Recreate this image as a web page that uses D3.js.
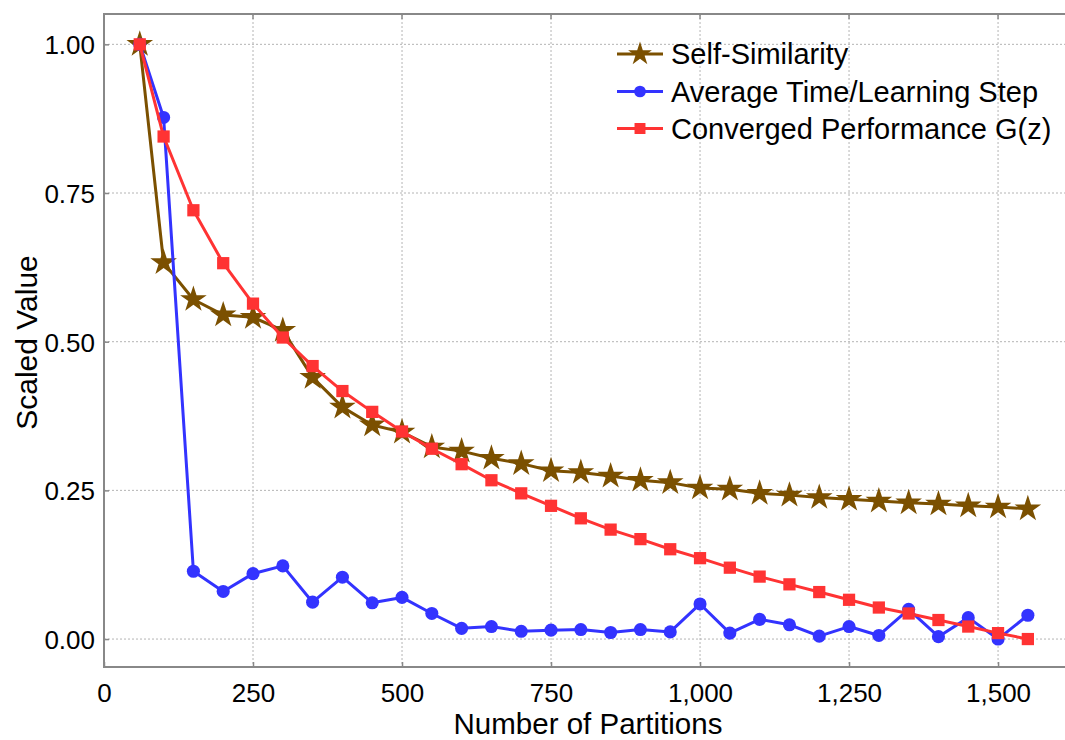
<!DOCTYPE html>
<html>
<head>
<meta charset="utf-8">
<script src="https://cdn.jsdelivr.net/npm/d3@7"></script>
<style>
  html, body { margin: 0; padding: 0; background: #fff; }
  svg { display: block; font-family: "Liberation Sans", Arial, sans-serif; }
</style>
</head>
<body>
<svg id="chart" width="1065" height="740"></svg>
<script>
// ---- data ----
const partitions = [60, 100, 150, 200, 250, 300, 350, 400, 450, 500, 550, 600, 650, 700, 750, 800, 850, 900, 950, 1000, 1050, 1100, 1150, 1200, 1250, 1300, 1350, 1400, 1450, 1500, 1550];
const selfSimilarity = [1.000, 0.633, 0.571, 0.545, 0.541, 0.519, 0.440, 0.390, 0.360, 0.348, 0.323, 0.316, 0.304, 0.295, 0.283, 0.280, 0.274, 0.267, 0.263, 0.254, 0.252, 0.245, 0.242, 0.238, 0.235, 0.232, 0.229, 0.227, 0.224, 0.222, 0.219];
const avgTime = [1.000, 0.877, 0.114, 0.080, 0.110, 0.123, 0.062, 0.104, 0.061, 0.070, 0.043, 0.018, 0.021, 0.013, 0.015, 0.016, 0.011, 0.016, 0.012, 0.059, 0.010, 0.033, 0.024, 0.005, 0.021, 0.006, 0.050, 0.004, 0.036, 0.000, 0.040];
const convergedPerf = [1.000, 0.845, 0.721, 0.632, 0.564, 0.507, 0.459, 0.417, 0.382, 0.349, 0.320, 0.294, 0.267, 0.245, 0.224, 0.203, 0.184, 0.168, 0.151, 0.136, 0.120, 0.105, 0.092, 0.079, 0.066, 0.053, 0.043, 0.032, 0.021, 0.010, 0.000];
const seriesNames = ["Self-Similarity", "Average Time/Learning Step", "Converged Performance G(z)"];
const xTicks = [0, 250, 500, 750, 1000, 1250, 1500];
const yTicks = [0, 0.25, 0.5, 0.75, 1.0];
const xTitle = "Number of Partitions";
const yTitle = "Scaled Value";

// ---- layout ----
const svg = d3.select("#chart");
const L = 104, T = 14, R = 1066, B = 667;

const x = d3.scaleLinear().domain([0, 1614]).range([L, R]);
const y = d3.scaleLinear().domain([-0.047, 1.051]).range([B, T]);

const gridColor = "#b4b4b4";
const frameColor = "#888888";

// grid
const g = svg.append("g");
g.selectAll(".vg").data(xTicks.filter(d => d > 0)).enter().append("line")
  .attr("x1", d => x(d)).attr("x2", d => x(d)).attr("y1", T).attr("y2", B)
  .attr("stroke", gridColor).attr("stroke-width", 1).attr("stroke-dasharray", "2,2");
g.selectAll(".hg").data(yTicks).enter().append("line")
  .attr("x1", L).attr("x2", R).attr("y1", d => y(d)).attr("y2", d => y(d))
  .attr("stroke", gridColor).attr("stroke-width", 1).attr("stroke-dasharray", "2,2");

// axes
const xAxis = d3.axisBottom(x).tickValues(xTicks).tickFormat(d3.format(",")).tickSizeInner(-5).tickSizeOuter(0).tickPadding(17);
const yAxis = d3.axisLeft(y).tickValues(yTicks).tickFormat(d3.format(".2f")).tickSizeInner(-5).tickSizeOuter(0).tickPadding(9);

const gx = svg.append("g").attr("transform", `translate(0,${B})`).call(xAxis);
const gy = svg.append("g").attr("transform", `translate(${L},0)`).call(yAxis);
[gx, gy].forEach(a => {
  a.select(".domain").remove();
  a.selectAll(".tick line").attr("stroke", frameColor).attr("stroke-width", 1.5);
  a.selectAll(".tick text").attr("fill", "#000").style("font-size", "26px").style("font-family", "'Liberation Sans', Arial, sans-serif");
});
gy.selectAll(".tick text").attr("dy", "0.36em");

// top ticks
svg.append("g").selectAll("line").data(xTicks).enter().append("line")
  .attr("x1", d => x(d)).attr("x2", d => x(d)).attr("y1", T).attr("y2", T + 5)
  .attr("stroke", frameColor).attr("stroke-width", 1.5);

// frame
svg.append("rect").attr("x", L).attr("y", T).attr("width", R - L).attr("height", B - T)
  .attr("fill", "none").attr("stroke", frameColor).attr("stroke-width", 2);

// titles
svg.append("text").attr("x", 588).attr("y", 734).attr("text-anchor", "middle")
  .style("font-size", "29.5px").attr("fill", "#000").text(xTitle);
svg.append("text").attr("transform", `translate(37,${(T + B) / 2 + 2}) rotate(-90)`).attr("text-anchor", "middle")
  .style("font-size", "30px").attr("fill", "#000").text(yTitle);

// series
const colors = ["#7b5000", "#3333ff", "#ff3333"];
const seriesVals = [selfSimilarity, avgTime, convergedPerf];
const symbols = [d3.symbolStar, d3.symbolCircle, d3.symbolSquare];
const symSizes = [220, 135, 150];

const line = d3.line().x(d => x(d[0])).y(d => y(d[1]));
const plot = svg.append("g");
seriesVals.forEach((vals, i) => {
  const pts = partitions.map((p, j) => [p, vals[j]]);
  plot.append("path").datum(pts).attr("d", line)
    .attr("fill", "none").attr("stroke", colors[i]).attr("stroke-width", 3).attr("stroke-linejoin", "round");
  plot.selectAll(".m" + i).data(pts).enter().append("path")
    .attr("transform", d => `translate(${x(d[0])},${y(d[1])})`)
    .attr("d", d3.symbol().type(symbols[i]).size(symSizes[i]))
    .attr("fill", colors[i]);
});

// legend
const leg = svg.append("g");
const legY = [54, 91.5, 128.5];
seriesNames.forEach((name, i) => {
  leg.append("line").attr("x1", 617).attr("x2", 663).attr("y1", legY[i]).attr("y2", legY[i])
    .attr("stroke", colors[i]).attr("stroke-width", 3);
  leg.append("path").attr("transform", `translate(640,${legY[i]})`)
    .attr("d", d3.symbol().type(symbols[i]).size(symSizes[i] * 0.8)).attr("fill", colors[i]);
  leg.append("text").attr("x", 671).attr("y", legY[i] + 10)
    .style("font-size", "29px").attr("fill", "#000").text(name);
});
</script>
</body>
</html>
